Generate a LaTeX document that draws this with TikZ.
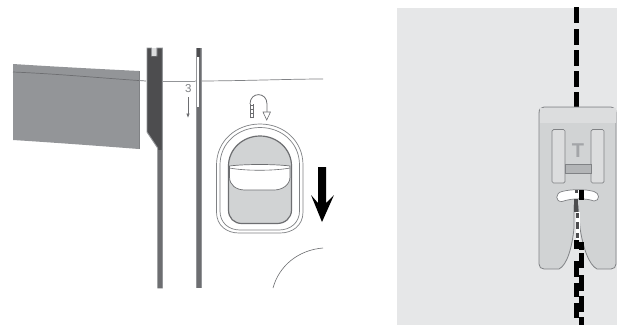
\documentclass[tikz,border=0pt]{standalone}
\usetikzlibrary{arrows.meta}
\usepackage{fontspec}
\setmainfont{Liberation Sans}
\definecolor{panel}{HTML}{E6E7E8}
\definecolor{footg}{HTML}{D1D3D4}
\definecolor{footl}{HTML}{DCDDDE}
\definecolor{edge}{HTML}{808285}
\definecolor{bandg}{HTML}{939598}
\definecolor{darkb}{HTML}{4D4D4F}
\definecolor{midb}{HTML}{6D6E71}
\tikzset{thinl/.style={draw=edge,line width=.7pt},bar/.style={fill=darkb,draw=bandg,line width=.9pt}}
\begin{document}
\begin{tikzpicture}[x=1pt,y=-1pt]
\useasboundingbox (0,0) rectangle (620,325);
\fill[white] (0,0) rectangle (620,325);
% band
\fill[bandg] (13,64) .. controls (60,67) and (100,69) .. (139,71) -- (139,149) .. controls (100,146) and (60,143) .. (13,140) -- cycle;
\draw[draw=midb,line width=.7pt] (13,72) .. controls (60,74) and (100,78) .. (146,81);
\draw[thinl] (139,71) -- (139,149);
\draw[draw=bandg,line width=.8pt] (160,81) -- (195,81);
\draw[draw=edge,line width=.7pt] (195,81) .. controls (240,81) and (290,79) .. (323,79);
% needle bar 1
\path[bar] (147,48) -- (151.5,48) -- (151.5,56) -- (156.8,56) -- (156.8,48) -- (162.3,48) -- (162.3,288) -- (157.7,288) -- (157.7,148) -- (147,132) -- cycle;
\fill[footl] (152,48) rectangle (156.3,55.5);
\fill[midb] (158.2,150) rectangle (161.8,288);
% needle bar 2
\fill[midb] (196,48) rectangle (200.7,288);
\draw[bandg,line width=.6pt] (195.8,48) -- (195.8,288) (200.8,48) -- (200.8,288);
\fill[darkb] (196.5,48) rectangle (200.2,57);
\fill[white] (197.3,57) rectangle (199.3,107);
% 3
\node[text=edge,font=\fontsize{11.5}{11.5}\selectfont] (three) at (188.3,89) {3};
\draw[midb,line width=.7pt,-{Latex[length=4.5pt,width=3.5pt]}] (188,97) -- (188,118);
% U arrow
\draw[midb,line width=.6pt] (250,118) -- (250,104) (253,118) -- (253,104);
\foreach \y in {105,109,113,117} {\draw[midb,line width=.5pt] (250,\y) -- (253,\y);}
\draw[midb,line width=.8pt] (250,104) .. controls (250,91.5) and (267,91.5) .. (267,104) -- (267,112);
\draw[midb,line width=.6pt,fill=white] (263,112) -- (270.5,112) -- (266.7,120) -- cycle;
% button
\draw[edge,line width=.7pt,fill=white] (216.5,165) .. controls (216.5,141) and (236,124) .. (260,124) .. controls (284,124) and (303,141) .. (303,165) -- (303,212) .. controls (303,226) and (292,233) .. (280,233) -- (239,233) .. controls (227,233) and (216.5,226) .. (216.5,212) -- cycle;
\draw[edge,line width=.7pt] (220,165) .. controls (220,143) and (238,127.5) .. (260,127.5) .. controls (282,127.5) and (299.5,143) .. (299.5,165) -- (299.5,211) .. controls (299.5,223) and (290,230) .. (279,230) -- (240,230) .. controls (229,230) and (220,223) .. (220,211) -- cycle;
\draw[midb,line width=1.2pt,fill=footg] (228.5,166) .. controls (228.5,149) and (243,136) .. (260,136) .. controls (277,136) and (291.5,149) .. (291.5,166) -- (291.5,210) .. controls (291.5,218) and (285,223.5) .. (277,223.5) -- (242,223.5) .. controls (234,223.5) and (228.5,218) .. (228.5,210) -- cycle;
\draw[midb,line width=.7pt,fill=white] (229.5,166) .. controls (245,164) and (274,164) .. (290,166) -- (290,177) .. controls (290,185) and (282,190) .. (274,190) -- (245,190) .. controls (236,190) and (229.5,185) .. (229.5,177) -- cycle;
\draw[midb,line width=.6pt] (229.5,168) .. controls (245,171) and (274,171) .. (290,168);
% big arrow
\fill[black] (318,167) -- (326,167) -- (326,203) -- (334,195) -- (322,222) -- (311,195) -- (318,203) -- cycle;
% curve
\draw[midb,line width=.6pt] (273,288) .. controls (279,266) and (298,250) .. (323,248);
% panel
\fill[panel] (397,8) rectangle (617,325);
% stitching upper
\foreach \y in {7,29,50,71,92} {\fill[black] (574.2,\y) rectangle (579,\y+16);}
% foot
\draw[edge,line width=.8pt,fill=footg] (539,113) .. controls (539,109) and (541,107) .. (544,107) -- (611,107) .. controls (614,107) and (616,109) .. (616,113) -- (616,264) .. controls (616,267) and (614,269) .. (611,269) -- (597,269) .. controls (589,265) and (583,248) .. (580,228) -- (578,205) -- (574,205) -- (574,228) .. controls (572,248) and (567,265) .. (559,269) -- (544,269) .. controls (541,269) and (539,267) .. (539,264) -- cycle;
\fill[footl] (539.5,108) -- (615.5,108) -- (615.5,123) -- (539.5,123) -- cycle;
\draw[edge,line width=.7pt,fill=footl,rounded corners=1.5pt] (552,129.5) rectangle (565,183);
\draw[edge,line width=.7pt,fill=footl,rounded corners=1.5pt] (591,129.5) rectangle (604,183);
\draw[edge,line width=.6pt,fill=bandg!70!white] (565,164) rectangle (591,173);
\node[text=bandg!85!white,font=\bfseries\fontsize{20}{20}\selectfont] (tee) at (578,150.5) {T};
\draw[edge,line width=.7pt,fill=white] (562,191.5) .. controls (572,189) and (585,189) .. (594,191.5) .. controls (600,193) and (600,201) .. (594,201) .. controls (586,198) and (572,198) .. (562,201.5) .. controls (555,202) and (555,193) .. (562,191.5) -- cycle;
\fill[black] (579,190) rectangle (583.5,199.5);
\fill[darkb] (574.5,190) rectangle (578,193);
% stitching through foot
\fill[darkb] (574,199) rectangle (577.5,212);
\fill[white] (575.5,212) rectangle (579.5,240);
\foreach \a/\b in {213/218,222/229,233/238}{\fill[darkb] (576,\a) rectangle (579,\b);}
% lower double stitching
\foreach \a/\b in {240/249,261/277,283/297,303/318}{\fill[black] (574.2,\a) rectangle (578.6,\b);}
\foreach \a/\b in {242/250,253/268,275/291,296/312,317/325}{\fill[black] (579,\a) rectangle (583.5,\b);}
\end{tikzpicture}
\end{document}
